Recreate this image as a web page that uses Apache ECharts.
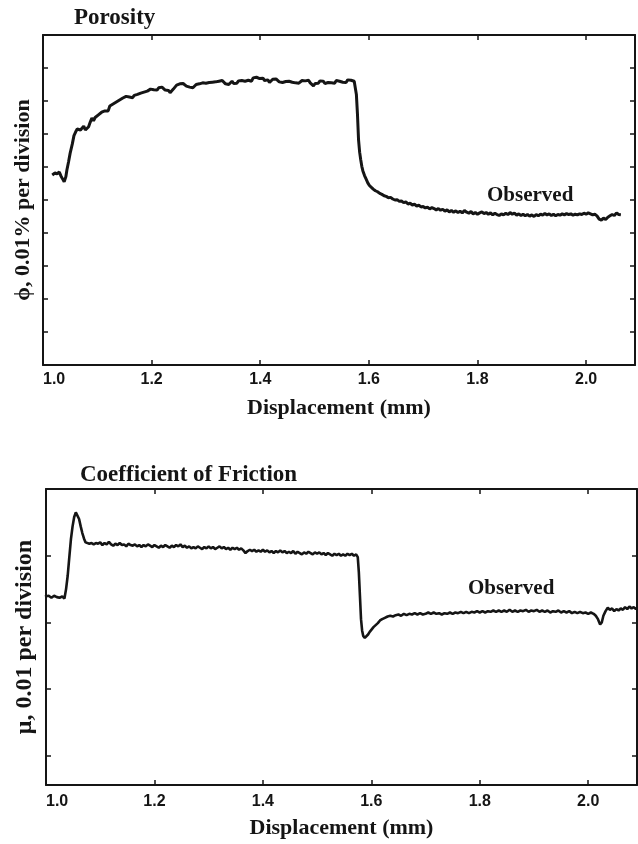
<!DOCTYPE html>
<html>
<head>
<meta charset="utf-8">
<script src="https://cdn.jsdelivr.net/npm/echarts@6/dist/echarts.min.js"></script>
<style>
html,body{margin:0;padding:0;background:#fff;}
#chart{width:638px;height:844px;}
</style>
</head>
<body>
<div id="chart"></div>
<script>
// ---------- Data ----------
const titleTop = 'Porosity';
const titleBottom = 'Coefficient of Friction';
const xAxisName = 'Displacement (mm)';
const yNameTop = 'ϕ, 0.01% per division';
const yNameBottom = 'μ, 0.01 per division';
const seriesLabel = 'Observed';

// Porosity: displacement (mm) and porosity (divisions)
const dispTop = [1.017,1.022,1.026,1.030,1.033,1.036,1.039,1.042,1.044,1.047,1.050,1.054,1.057,1.060,1.063,1.066,1.069,1.072,1.075,1.078,1.081,1.084,1.087,1.090,1.093,1.096,1.099,1.102,1.105,1.108,1.111,1.114,1.117,1.120,1.123,1.126,1.129,1.132,1.135,1.138,1.141,1.144,1.147,1.150,1.153,1.156,1.159,1.162,1.165,1.168,1.171,1.174,1.177,1.180,1.183,1.186,1.189,1.192,1.195,1.198,1.201,1.204,1.207,1.210,1.213,1.216,1.219,1.222,1.225,1.228,1.231,1.234,1.237,1.240,1.243,1.246,1.249,1.252,1.255,1.258,1.261,1.264,1.267,1.270,1.273,1.276,1.279,1.282,1.285,1.288,1.291,1.294,1.297,1.300,1.303,1.306,1.309,1.312,1.315,1.318,1.321,1.324,1.327,1.330,1.333,1.336,1.339,1.342,1.345,1.348,1.351,1.354,1.357,1.360,1.363,1.366,1.369,1.372,1.375,1.378,1.381,1.384,1.387,1.390,1.393,1.396,1.399,1.402,1.405,1.408,1.411,1.414,1.417,1.420,1.423,1.426,1.429,1.432,1.435,1.438,1.441,1.444,1.447,1.450,1.453,1.456,1.459,1.462,1.465,1.468,1.471,1.474,1.477,1.480,1.483,1.486,1.489,1.492,1.495,1.498,1.501,1.504,1.507,1.510,1.513,1.516,1.519,1.522,1.525,1.528,1.531,1.534,1.537,1.540,1.543,1.546,1.549,1.552,1.555,1.558,1.561,1.564,1.567,1.570,1.573,1.575,1.577,1.579,1.581,1.583,1.585,1.587,1.589,1.592,1.595,1.598,1.601,1.604,1.608,1.612,1.616,1.620,1.624,1.628,1.632,1.636,1.640,1.644,1.648,1.652,1.656,1.660,1.664,1.668,1.672,1.676,1.680,1.684,1.688,1.692,1.696,1.700,1.704,1.708,1.712,1.716,1.720,1.724,1.728,1.732,1.736,1.740,1.744,1.748,1.752,1.756,1.760,1.764,1.768,1.772,1.776,1.780,1.784,1.788,1.792,1.796,1.800,1.804,1.808,1.812,1.816,1.820,1.824,1.828,1.832,1.836,1.840,1.844,1.848,1.852,1.856,1.860,1.864,1.868,1.872,1.876,1.880,1.884,1.888,1.892,1.896,1.900,1.904,1.908,1.912,1.916,1.920,1.924,1.928,1.932,1.936,1.940,1.944,1.948,1.952,1.956,1.960,1.964,1.968,1.972,1.976,1.980,1.984,1.988,1.992,1.996,2.000,2.004,2.008,2.012,2.016,2.020,2.024,2.028,2.032,2.036,2.040,2.044,2.048,2.052,2.056,2.060,2.064];
const phiTop = [5.76,5.82,5.79,5.85,5.73,5.64,5.55,5.70,5.91,6.15,6.42,6.70,6.95,7.06,7.15,7.21,7.12,7.18,7.24,7.12,7.06,7.22,7.36,7.48,7.40,7.50,7.45,7.58,7.52,7.66,7.60,7.70,7.76,7.70,7.85,7.80,7.91,7.88,7.97,7.92,8.03,8.00,8.09,8.04,8.14,8.09,8.12,8.06,8.10,8.17,8.12,8.20,8.15,8.24,8.18,8.27,8.22,8.30,8.26,8.36,8.30,8.34,8.39,8.33,8.40,8.36,8.42,8.38,8.33,8.27,8.32,8.25,8.30,8.36,8.42,8.48,8.45,8.52,8.58,8.53,8.48,8.45,8.50,8.42,8.47,8.40,8.46,8.50,8.44,8.52,8.47,8.55,8.50,8.54,8.48,8.56,8.51,8.57,8.52,8.58,8.53,8.60,8.55,8.62,8.56,8.52,8.58,8.50,8.55,8.60,8.53,8.58,8.54,8.61,8.56,8.62,8.57,8.60,8.55,8.63,8.66,8.60,8.70,8.65,8.72,8.76,8.68,8.63,8.69,8.62,8.58,8.64,8.56,8.62,8.66,8.60,8.67,8.61,8.58,8.63,8.56,8.62,8.59,8.65,8.60,8.63,8.57,8.61,8.55,8.60,8.54,8.59,8.62,8.56,8.61,8.57,8.63,8.55,8.50,8.46,8.53,8.58,8.54,8.61,8.56,8.60,8.53,8.50,8.56,8.60,8.55,8.59,8.54,8.62,8.66,8.60,8.65,8.57,8.62,8.56,8.64,8.58,8.63,8.66,8.60,8.62,8.20,7.60,6.82,6.45,6.22,6.02,5.88,5.74,5.63,5.52,5.44,5.38,5.33,5.28,5.25,5.20,5.17,5.13,5.11,5.07,5.08,5.03,5.00,5.01,4.96,4.97,4.92,4.94,4.88,4.90,4.85,4.87,4.82,4.84,4.79,4.80,4.76,4.78,4.73,4.77,4.74,4.70,4.74,4.69,4.72,4.66,4.70,4.64,4.68,4.63,4.67,4.62,4.66,4.61,4.68,4.63,4.60,4.65,4.58,4.62,4.57,4.61,4.64,4.59,4.62,4.57,4.61,4.55,4.60,4.56,4.53,4.58,4.55,4.60,4.56,4.62,4.57,4.60,4.54,4.58,4.53,4.57,4.52,4.56,4.51,4.55,4.50,4.56,4.52,4.57,4.54,4.59,4.55,4.58,4.53,4.57,4.52,4.56,4.54,4.58,4.55,4.59,4.56,4.58,4.54,4.57,4.55,4.58,4.56,4.60,4.57,4.61,4.58,4.55,4.57,4.52,4.42,4.39,4.45,4.41,4.48,4.52,4.56,4.53,4.61,4.56,4.55];

// Friction: displacement (mm) and friction (divisions)
const dispBottom = [0.998,1.005,1.010,1.015,1.020,1.025,1.030,1.034,1.037,1.040,1.043,1.046,1.049,1.052,1.055,1.058,1.061,1.064,1.067,1.070,1.073,1.076,1.080,1.084,1.088,1.092,1.096,1.100,1.104,1.108,1.112,1.116,1.120,1.124,1.128,1.132,1.136,1.140,1.144,1.148,1.152,1.156,1.160,1.164,1.168,1.172,1.176,1.180,1.184,1.188,1.192,1.196,1.200,1.204,1.208,1.212,1.216,1.220,1.224,1.228,1.232,1.236,1.240,1.244,1.248,1.252,1.256,1.260,1.264,1.268,1.272,1.276,1.280,1.284,1.288,1.292,1.296,1.300,1.304,1.308,1.312,1.316,1.320,1.324,1.328,1.332,1.336,1.340,1.344,1.348,1.352,1.356,1.360,1.364,1.368,1.372,1.376,1.380,1.384,1.388,1.392,1.396,1.400,1.404,1.408,1.412,1.416,1.420,1.424,1.428,1.432,1.436,1.440,1.444,1.448,1.452,1.456,1.460,1.464,1.468,1.472,1.476,1.480,1.484,1.488,1.492,1.496,1.500,1.504,1.508,1.512,1.516,1.520,1.524,1.528,1.532,1.536,1.540,1.544,1.548,1.552,1.556,1.560,1.564,1.568,1.572,1.575,1.577,1.579,1.581,1.583,1.585,1.588,1.591,1.594,1.597,1.600,1.604,1.608,1.612,1.616,1.620,1.625,1.630,1.635,1.640,1.645,1.650,1.655,1.660,1.665,1.670,1.675,1.680,1.685,1.690,1.695,1.700,1.705,1.710,1.715,1.720,1.725,1.730,1.735,1.740,1.745,1.750,1.755,1.760,1.765,1.770,1.775,1.780,1.785,1.790,1.795,1.800,1.805,1.810,1.815,1.820,1.825,1.830,1.835,1.840,1.845,1.850,1.855,1.860,1.865,1.870,1.875,1.880,1.885,1.890,1.895,1.900,1.905,1.910,1.915,1.920,1.925,1.930,1.935,1.940,1.945,1.950,1.955,1.960,1.965,1.970,1.975,1.980,1.985,1.990,1.995,2.000,2.005,2.010,2.014,2.018,2.022,2.025,2.028,2.032,2.036,2.040,2.044,2.048,2.052,2.056,2.060,2.064,2.068,2.072,2.076,2.080,2.084,2.088,2.090];
const muBottom = [3.39,3.40,3.37,3.40,3.38,3.37,3.39,3.36,3.50,3.70,3.98,4.25,4.44,4.58,4.65,4.63,4.55,4.44,4.34,4.26,4.20,4.19,4.18,4.19,4.17,4.19,4.18,4.20,4.16,4.19,4.17,4.21,4.17,4.15,4.18,4.16,4.19,4.16,4.17,4.14,4.18,4.16,4.15,4.17,4.14,4.16,4.13,4.16,4.14,4.17,4.15,4.13,4.16,4.14,4.12,4.15,4.13,4.16,4.14,4.12,4.15,4.13,4.16,4.14,4.17,4.13,4.15,4.12,4.14,4.11,4.13,4.11,4.14,4.12,4.10,4.13,4.11,4.14,4.11,4.13,4.10,4.12,4.14,4.11,4.13,4.10,4.12,4.09,4.12,4.10,4.12,4.09,4.11,4.08,4.04,4.07,4.09,4.07,4.09,4.06,4.08,4.06,4.09,4.06,4.08,4.05,4.07,4.04,4.07,4.05,4.08,4.05,4.07,4.04,4.06,4.04,4.07,4.03,4.06,4.04,4.02,4.05,4.03,4.06,4.04,4.02,4.05,4.03,4.05,4.02,4.04,4.01,4.04,4.02,4.00,4.03,4.01,4.03,4.00,4.02,4.00,4.03,4.01,4.03,4.00,4.02,3.98,3.75,3.40,3.05,2.88,2.80,2.77,2.78,2.82,2.86,2.89,2.93,2.96,2.99,3.03,3.05,3.07,3.09,3.10,3.09,3.11,3.12,3.10,3.13,3.11,3.13,3.12,3.14,3.12,3.14,3.12,3.13,3.15,3.13,3.15,3.13,3.14,3.12,3.14,3.13,3.15,3.13,3.15,3.14,3.16,3.14,3.16,3.14,3.16,3.15,3.17,3.15,3.17,3.15,3.17,3.16,3.18,3.16,3.18,3.16,3.18,3.16,3.19,3.16,3.18,3.16,3.18,3.17,3.19,3.16,3.18,3.17,3.19,3.16,3.18,3.16,3.18,3.15,3.17,3.16,3.18,3.15,3.17,3.15,3.17,3.14,3.16,3.14,3.16,3.14,3.15,3.13,3.15,3.13,3.10,3.05,2.97,3.00,3.10,3.17,3.22,3.19,3.21,3.17,3.20,3.18,3.21,3.19,3.23,3.20,3.24,3.21,3.23,3.20,3.22];

// Axis settings (values, not positions)
const xMin = 1.0, xMax = 2.09, xStep = 0.2;
const yTopMin = 0, yTopMax = 10, yTopStep = 1;
const yBotMin = 0.565, yBotMax = 5, yBotTicks = [1, 2, 3, 4];

// ---------- Chart ----------
const ink = '#151515';
const serif = '"Liberation Serif", "Times New Roman", serif';
const sans = '"Liberation Sans", Arial, sans-serif';

function zip(a, b) { return a.map((v, i) => [v, b[i]]); }

function xAxes(grid, labelMargin) {
  const base = {
    gridIndex: grid, type: 'value', min: xMin, max: xMax, interval: xStep,
    splitLine: { show: false },
    axisLine: { show: true, onZero: false, lineStyle: { color: ink, width: 2 } },
    axisTick: { show: true, inside: true, length: 5, lineStyle: { color: ink, width: 1.5 } }
  };
  return [
    Object.assign({}, base, {
      position: 'bottom',
      axisLabel: { show: true, margin: labelMargin, color: ink, fontFamily: sans, fontWeight: 'bold', fontSize: 16,
        formatter: v => v.toFixed(1), showMaxLabel: false, alignMinLabel: 'left' },
      name: xAxisName, nameLocation: 'middle', nameGap: 32,
      nameTextStyle: { color: ink, fontFamily: serif, fontWeight: 'bold', fontSize: 22 }
    }),
    Object.assign({}, base, { position: 'top', axisLabel: { show: false } })
  ];
}

function yAxes(grid, min, max, step, custom, name, size) {
  const tick = { show: true, inside: true, length: 5, lineStyle: { color: ink, width: 1.5 } };
  if (custom) tick.customValues = custom;
  const base = {
    gridIndex: grid, type: 'value', min: min, max: max,
    splitLine: { show: false },
    axisLabel: { show: false },
    axisLine: { show: true, onZero: false, lineStyle: { color: ink, width: 2 } },
    axisTick: tick
  };
  if (step) base.interval = step;
  return [
    Object.assign({}, base, {
      position: 'left', name: name, nameLocation: 'middle', nameRotate: 90, nameGap: 9,
      nameTextStyle: { color: ink, fontFamily: serif, fontWeight: 'bold', fontSize: size }
    }),
    Object.assign({}, base, { position: 'right' })
  ];
}

const chart = echarts.init(document.getElementById('chart'), null, { renderer: 'canvas' });
chart.setOption({
  backgroundColor: '#ffffff',
  animation: false,
  title: [
    { text: titleTop, left: 69, top: 2, textStyle: { color: ink, fontFamily: serif, fontWeight: 'bold', fontSize: 23 } },
    { text: titleBottom, left: 75, top: 459, textStyle: { color: ink, fontFamily: serif, fontWeight: 'bold', fontSize: 23 } }
  ],
  grid: [
    { left: 43, right: 3, top: 35, bottom: 479, containLabel: false },
    { left: 46, right: 1, top: 489, bottom: 59, containLabel: false }
  ],
  xAxis: [].concat(xAxes(0, 7), xAxes(1, 9)),
  yAxis: [].concat(
    yAxes(0, yTopMin, yTopMax, yTopStep, null, yNameTop, 22),
    yAxes(1, yBotMin, yBotMax, null, yBotTicks, yNameBottom, 24)
  ),
  series: [
    { type: 'line', xAxisIndex: 0, yAxisIndex: 0, data: zip(dispTop, phiTop), showSymbol: false,
      lineStyle: { color: ink, width: 3 }, silent: true },
    { type: 'line', xAxisIndex: 2, yAxisIndex: 2, data: zip(dispBottom, muBottom), showSymbol: false,
      lineStyle: { color: ink, width: 2.6 }, silent: true }
  ],
  graphic: [
    { type: 'text', left: 487, top: 185, style: { text: seriesLabel, fill: ink, font: 'bold 21px ' + serif } },
    { type: 'text', left: 468, top: 578, style: { text: seriesLabel, fill: ink, font: 'bold 21px ' + serif } }
  ]
});
</script>
</body>
</html>
